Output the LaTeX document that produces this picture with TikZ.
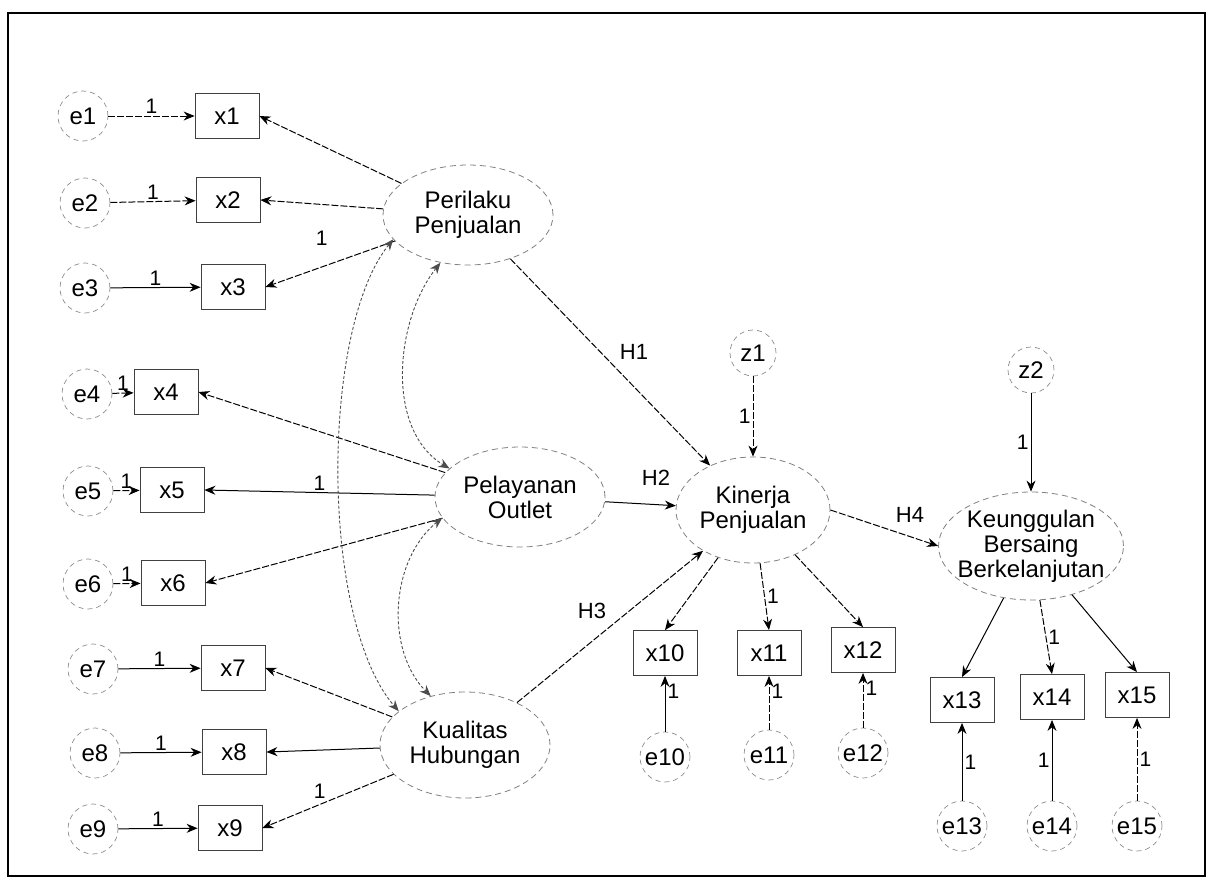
\documentclass[tikz,border=0pt]{standalone}
\usepackage{fontspec}
\setmainfont{Liberation Sans}
\usetikzlibrary{arrows.meta,shapes.geometric}
\tikzset{
  >={Stealth[length=11pt,width=9pt]},
  err/.style={circle,draw=black!45,dash pattern=on 5pt off 4pt,line width=0.7pt,
    minimum size=50pt,inner sep=0pt,font=\fontsize{24}{26}\selectfont},
  ind/.style={draw=black!75,line width=0.8pt,minimum width=64pt,minimum height=45pt,
    inner sep=0pt,font=\fontsize{24}{26}\selectfont},
  lat/.style={ellipse,draw=black!50,dash pattern=on 6pt off 4pt,line width=0.8pt,
    inner xsep=-8pt,inner ysep=0pt,align=center,font=\fontsize{24}{25}\selectfont},
  load/.style={->,line width=1pt,draw=#1},
  load/.default=black,
  faint/.style={dash pattern=on 7pt off 2pt},
  cov/.style={<->,line width=0.9pt,densely dashed,draw=black!70},
  one/.style={font=\fontsize{21}{22}\selectfont,inner sep=2pt},
  hyp/.style={font=\fontsize{22}{24}\selectfont},
}
\begin{document}
\begin{tikzpicture}[x={(1pt,0)},y={(0,-1pt)}]
  \useasboundingbox (0,0) rectangle (1211,887);
  \draw[line width=1.6pt] (8,13) rectangle (1205,876);

  % latent variables
  \node[lat,minimum width=170pt,minimum height=100pt] (perilaku) at (468,215) {Perilaku\\Penjualan};
  \node[lat,minimum width=170pt,minimum height=100pt] (pelayanan) at (520,497) {Pelayanan\\Outlet};
  \node[lat,minimum width=170pt,minimum height=106pt] (kualitas) at (465,745) {Kualitas\\Hubungan};
  \node[lat,minimum width=154pt,minimum height=106pt] (kinerja) at (753,510) {Kinerja\\Penjualan};
  \node[lat,minimum width=176pt,minimum height=108pt] (keunggulan) at (1031,546) {Keunggulan\\Bersaing\\Berkelanjutan};
  \node[err,minimum size=46pt] (z1) at (753,353) {z1};
  \node[err,minimum size=46pt] (z2) at (1031,370) {z2};

  % indicators of the exogenous constructs
  \foreach \i/\ex/\ey/\bx/\by/\s in {1/83/116/227/116/faint,2/85/203/228/200/faint,3/85/288/233/287/solid,
      4/87/394/166/392/faint,5/88/491/172/490/faint,6/88/584/173/583/faint,
      7/93/669/233/668/solid,8/95/753/234/752/solid,9/93/829/230/828/solid}{
    \node[err] (e\i) at (\ex,\ey) {e\i};
    \node[ind] (x\i) at (\bx,\by) {x\i};
    \draw[load,\s] (e\i) -- node[one,above]{1} (x\i);
  }

  % indicators of the endogenous constructs
  \foreach \i/\bx/\by/\ey/\p/\d/\s in {10/665/653/757/.72/right/solid,11/769/653/755/.72/right/faint,
      12/863/650/753/.72/right/faint,13/962/700/826/.5/right/solid,14/1052/697/826/.5/left/solid,
      15/1137/695/826/.5/right/faint}{
    \node[ind] (x\i) at (\bx,\by) {x\i};
    \node[err] (e\i) at (\bx,\ey) {e\i};
    \draw[load,\s] (e\i) -- node[one,pos=\p,\d]{1} (x\i);
  }

  \draw[load,faint] (perilaku) -- (x1.east);
  \draw[load,faint] (perilaku) -- node[one,below=24pt]{1} (x2.east);
  \draw[load,faint] (perilaku) -- (x3.east);
  \draw[load,faint] (pelayanan) -- (x4.east);
  \draw[load] (pelayanan) -- node[one,above]{1} (x5.east);
  \draw[load,faint] (pelayanan) -- (x6.east);
  \draw[load,faint] (kualitas) -- (x7.east);
  \draw[load] (kualitas) -- (x8.east);
  \draw[load,faint] (kualitas) -- node[one,above left]{1} (x9.east);
  \draw[load,faint] (kinerja) -- (x10.north);
  \draw[load,faint] (kinerja) -- node[one,right]{1} (x11.north);
  \draw[load,faint] (kinerja) -- (x12.north);
  \draw[load] (keunggulan) -- (x13.north);
  \draw[load,faint] (keunggulan) -- node[one,right]{1} (x14.north);
  \draw[load] (keunggulan) -- (x15.north);

  % disturbances
  \draw[load,faint] (z1) -- node[one,left]{1} (kinerja);
  \draw[load] (z2) -- node[one,left]{1} (keunggulan);

  % covariances
  \draw[cov] (perilaku.198) .. controls (320,330) and (320,620) .. (kualitas.153);
  \draw[cov] (perilaku.240) .. controls (395,320) and (385,430) .. (pelayanan.158);
  \draw[cov] (pelayanan.195) .. controls (390,560) and (385,650) .. (kualitas.125);

  % hypotheses
  \draw[load,faint] (perilaku) -- (kinerja);
  \draw[load] (pelayanan) -- (kinerja);
  \draw[load,faint] (kualitas) -- (kinerja);
  \draw[load,faint] (kinerja.east) -- (keunggulan.west);
  \node[hyp] (h1) at (634,352) {H1};
  \node[hyp] (h2) at (656,478) {H2};
  \node[hyp] (h3) at (592,611) {H3};
  \node[hyp] (h4) at (910,515) {H4};
\end{tikzpicture}
\end{document}
